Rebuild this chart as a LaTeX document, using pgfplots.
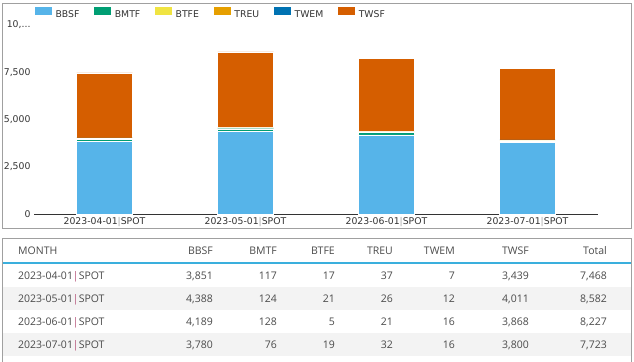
\documentclass[border=0pt]{standalone}
\usepackage{fontspec}
\setmainfont{DejaVu Sans}
\newfontfamily\tablefont{Open Sans}
\usepackage{pgfplots}
\pgfplotsset{compat=1.18}
\definecolor{cBBSF}{HTML}{56B4E9}
\definecolor{cBMTF}{HTML}{009E73}
\definecolor{cBTFE}{HTML}{F0E442}
\definecolor{cTREU}{HTML}{E69F00}
\definecolor{cTWEM}{HTML}{0072B2}
\definecolor{cTWSF}{HTML}{D55E00}
\definecolor{frame}{HTML}{A0A0A0}
\definecolor{hdrline}{HTML}{3AAFDD}
\definecolor{stripe}{HTML}{F3F3F3}
\definecolor{txt}{HTML}{4A4A4A}
\definecolor{pipe}{HTML}{B5547A}
\definecolor{cpipe}{HTML}{A8A8A8}
\newcommand\tf{\tablefont\fontsize{10.5bp}{12bp}\selectfont\color{txt}}
\newcommand\mon[1]{#1{\color{pipe}|}SPOT}
\newcommand\tendots{10,...}
\begin{document}
\begin{tikzpicture}
\begin{scope}[x=1bp,y=-1bp]
\path[use as bounding box] (0,0) rectangle (634,361);
\draw[frame, line width=1.2bp] (2.5,3.5) rectangle (631.5,228.5);
\fill[stripe] (3,287) rectangle (631,310);
\fill[stripe] (3,333) rectangle (631,356);
\draw[frame, line width=1.2bp] (2.5,365) -- (2.5,238.5) -- (631.5,238.5) -- (631.5,365);
\draw[hdrline, line width=2.5bp] (3,263) -- (631,263);
\begin{scope}[every node/.style={inner sep=0pt, font=\tf}]
% header
\node[anchor=base west] at (18,254.8) {MONTH};
\node[anchor=base east] at (213,254.8) {BBSF};
\node[anchor=base east] at (277,254.8) {BMTF};
\node[anchor=base east] at (335,254.8) {BTFE};
\node[anchor=base east] at (393,254.8) {TREU};
\node[anchor=base east] at (455,254.8) {TWEM};
\node[anchor=base east] at (529,254.8) {TWSF};
\node[anchor=base east] at (607,254.8) {Total};
% rows
\foreach \y/\m/\a/\b/\c/\d/\e/\f/\t in {
  279.3/2023-04-01/{3,851}/117/17/37/7/{3,439}/{7,468},
  302.3/2023-05-01/{4,388}/124/21/26/12/{4,011}/{8,582},
  325.3/2023-06-01/{4,189}/128/5/21/16/{3,868}/{8,227},
  348.3/2023-07-01/{3,780}/76/19/32/16/{3,800}/{7,723}}{
  \node[anchor=base west] at (18,\y) {\mon{\m}};
  \node[anchor=base east] at (213,\y) {\a};
  \node[anchor=base east] at (277,\y) {\b};
  \node[anchor=base east] at (335,\y) {\c};
  \node[anchor=base east] at (393,\y) {\d};
  \node[anchor=base east] at (455,\y) {\e};
  \node[anchor=base east] at (529,\y) {\f};
  \node[anchor=base east] at (607,\y) {\t};
}
\end{scope}
\end{scope}
\begin{axis}[
  at={(34bp,-214bp)}, anchor=south west,
  scale only axis, width=564bp, height=189bp,
  xmin=-0.5, xmax=3.5, ymin=0, ymax=10000,
  scaled y ticks=false,
  ybar stacked, bar width=56bp,
  axis x line*=bottom, axis y line*=left,
  y axis line style={draw=none},
  x axis line style={draw=black!80, line width=1bp},
  major tick length=0pt,
  xtick={0,1,2,3},
  xticklabels={2023-04-01{\color{cpipe}|}SPOT,2023-05-01{\color{cpipe}|}SPOT,2023-06-01{\color{cpipe}|}SPOT,2023-07-01{\color{cpipe}|}SPOT},
  ytick={0,2500,5000,7500,10000},
  yticklabels={0,{2,500},{5,000},{7,500},\tendots},
  tick label style={font=\fontsize{9.3bp}{11bp}\selectfont, text=black!80},
  legend columns=6,
  legend style={at={(rel axis cs:0,1)}, anchor=south west, yshift=5.7bp,
    draw=none, fill=none, inner sep=0pt,
    nodes={inner sep=0pt, font=\fontsize{9.3bp}{11bp}\selectfont, text=black!80},
    /tikz/every odd column/.append style={column sep=3bp},
    /tikz/every even column/.append style={column sep=14bp}},
  legend image code/.code={\fill[#1,/tikz/.cd] (0bp,0bp) rectangle (18bp,8.3bp);},
  every axis plot/.append style={draw=white, line width=0.4bp},
]
\addplot[fill=cBBSF] coordinates {(0,3851) (1,4388) (2,4189) (3,3780)};
\addplot[fill=cBMTF] coordinates {(0,117) (1,124) (2,128) (3,76)};
\addplot[fill=cBTFE] coordinates {(0,17) (1,21) (2,5) (3,19)};
\addplot[fill=cTREU] coordinates {(0,37) (1,26) (2,21) (3,32)};
\addplot[fill=cTWEM] coordinates {(0,7) (1,12) (2,16) (3,16)};
\addplot[fill=cTWSF] coordinates {(0,3439) (1,4011) (2,3868) (3,3800)};
\legend{BBSF,BMTF,BTFE,TREU,TWEM,TWSF}
\end{axis}
\end{tikzpicture}
\end{document}
